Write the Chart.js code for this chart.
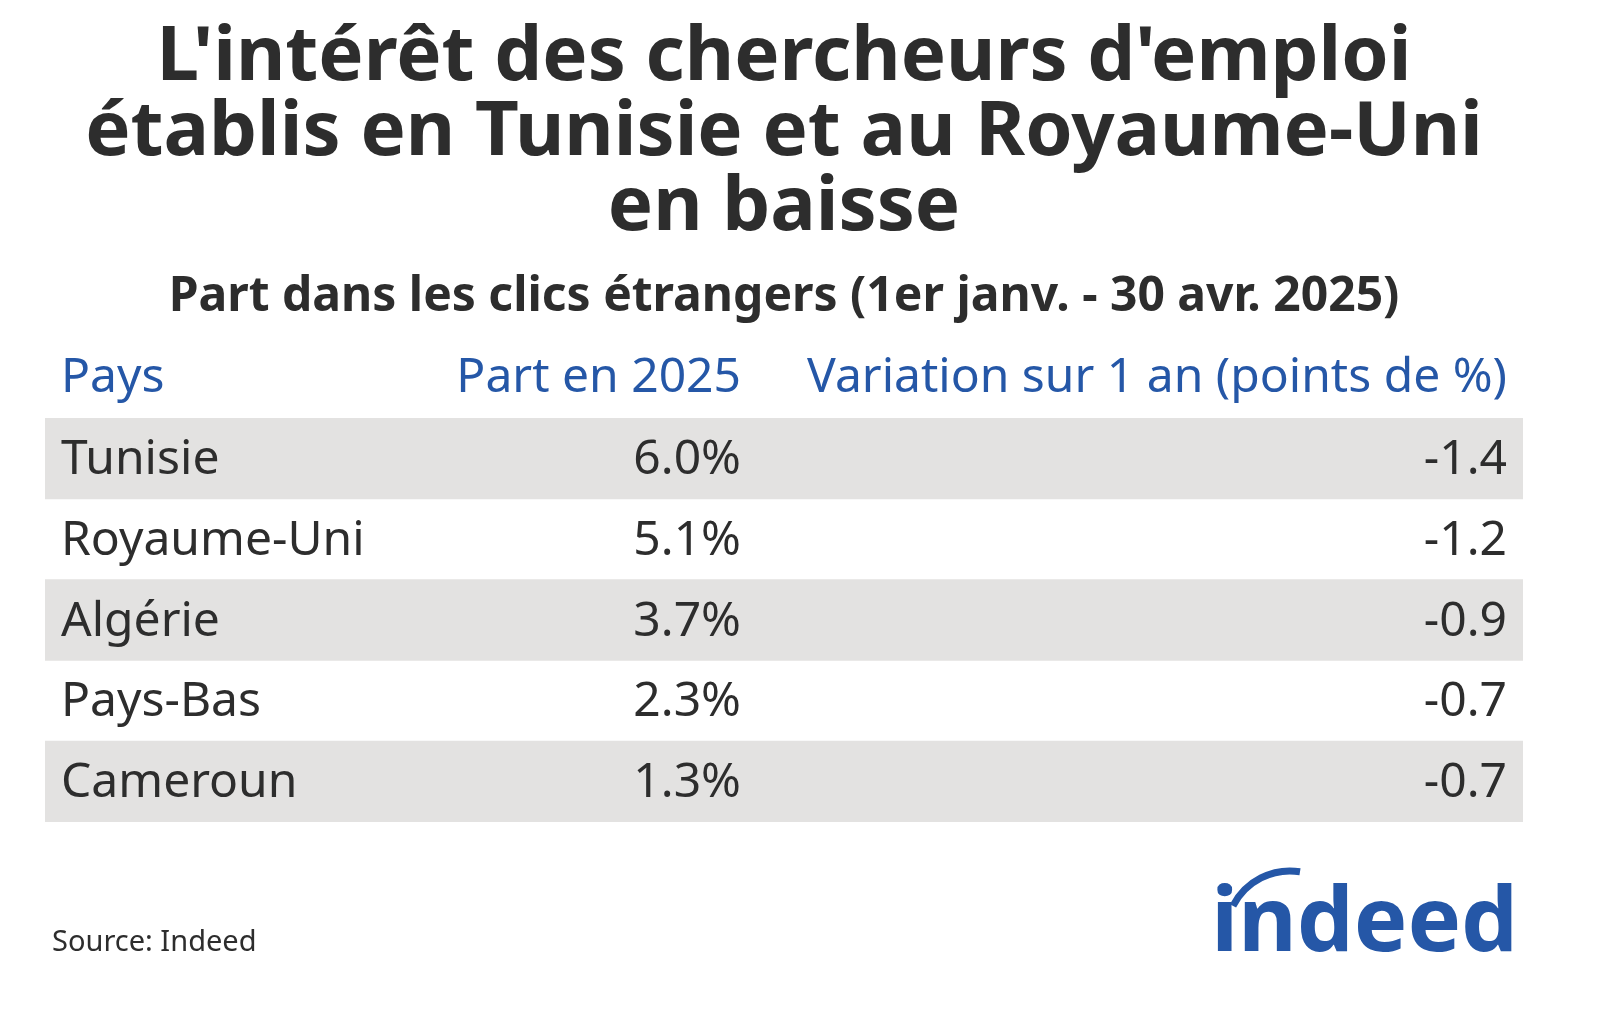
<!DOCTYPE html>
<html>
<head>
<meta charset="utf-8">
<script src="https://cdn.jsdelivr.net/npm/chart.js@4/dist/chart.umd.min.js"></script>
<style>
  html, body { margin: 0; padding: 0; background: #fff; }
  #wrap { width: 1600px; height: 1022px; }
</style>
</head>
<body>
<div id="wrap"><canvas id="tableau"></canvas></div>
<script>
const titreLignes = ["L'intérêt des chercheurs d'emploi", "établis en Tunisie et au Royaume-Uni", "en baisse"];
const sousTitre = "Part dans les clics étrangers (1er janv. - 30 avr. 2025)";
const entetes = ["Pays", "Part en 2025", "Variation sur 1 an (points de %)"];
const pays = ["Tunisie", "Royaume-Uni", "Algérie", "Pays-Bas", "Cameroun"];
const parts = [6.0, 5.1, 3.7, 2.3, 1.3];
const variations = [-1.4, -1.2, -0.9, -0.7, -0.7];

const FONT = "'Noto Sans', 'Open Sans', sans-serif";
const SOMBRE = '#2d2d2d';
const BLEU = '#2557a7';

// bandes grises une ligne sur deux
const bandes = pays.map((p, i) => i % 2 === 0 ? [0, 1] : null);

const textesTableau = {
    id: 'textesTableau',
    afterDraw(chart) {
        const ctx = chart.ctx;
        const y = chart.scales.y;
        ctx.save();
        ctx.textBaseline = 'middle';

        // titre
        ctx.fillStyle = SOMBRE;
        ctx.textAlign = 'center';
        ctx.font = `bold 76px ${FONT}`;
        titreLignes.forEach((l, i) => ctx.fillText(l, 784, 58 + i * 75));
        ctx.font = `bold 48px ${FONT}`;
        ctx.fillText(sousTitre, 784, 297);

        // entetes
        ctx.font = `48px ${FONT}`;
        ctx.fillStyle = BLEU;
        ctx.textAlign = 'left';
        ctx.fillText(entetes[0], 61, 378);
        ctx.textAlign = 'right';
        ctx.fillText(entetes[1], 741, 378);
        ctx.fillText(entetes[2], 1507, 378);

        // lignes
        ctx.fillStyle = SOMBRE;
        pays.forEach((p, i) => {
            const py = y.getPixelForValue(i) + 2;
            ctx.textAlign = 'left';
            ctx.fillText(p, 61, py);
            ctx.textAlign = 'right';
            ctx.fillText(parts[i].toFixed(1) + '%', 741, py);
            ctx.fillText(variations[i].toFixed(1), 1507, py);
        });

        // source
        ctx.textAlign = 'left';
        ctx.font = `29px ${FONT}`;
        ctx.fillText('Source: Indeed', 52, 943);

        // logo indeed
        ctx.fillStyle = BLEU;
        ctx.textAlign = 'right';
        ctx.font = `bold 90px ${FONT}`;
        ctx.fillText('indeed', 1518, 925);
        ctx.strokeStyle = BLEU;
        ctx.lineWidth = 7;
        ctx.beginPath();
        ctx.arc(1290, 935, 64, Math.PI * 1.15, Math.PI * 1.55);
        ctx.stroke();
        ctx.restore();
    }
};

new Chart(document.getElementById('tableau'), {
    type: 'bar',
    data: {
        labels: pays,
        datasets: [{ data: bandes, backgroundColor: '#e3e2e1', borderWidth: 0,
                     barPercentage: 1, categoryPercentage: 1 }]
    },
    options: {
        indexAxis: 'y',
        responsive: true, maintainAspectRatio: false, animation: false,
        layout: { padding: { left: 45, right: 77, top: 418, bottom: 200 } },
        plugins: { legend: { display: false }, tooltip: { enabled: false } },
        scales: {
            x: { display: false, min: 0, max: 1 },
            y: { display: false }
        }
    },
    plugins: [textesTableau]
});
</script>
</body>
</html>
